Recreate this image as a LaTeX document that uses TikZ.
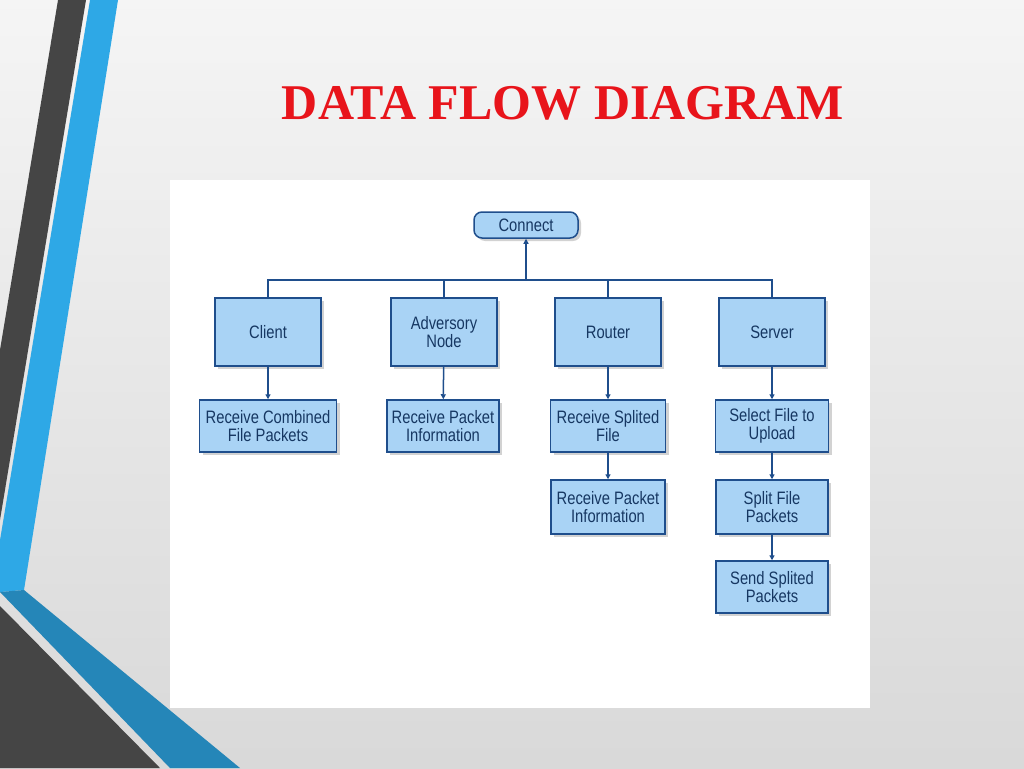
\documentclass[tikz,border=0pt]{standalone}
\usepackage{fontspec}
\setmainfont{Liberation Serif}
\setsansfont{Liberation Sans}[FakeStretch=0.82]
\usetikzlibrary{positioning,shadows,arrows.meta}
\definecolor{boxfill}{HTML}{A9D3F5}
\definecolor{boxline}{HTML}{1F4E8C}
\definecolor{stripeblue}{HTML}{2EA8E6}
\definecolor{stripedark}{HTML}{454545}
\definecolor{titlered}{HTML}{E8141B}
\tikzset{
  dfbox/.style={draw=boxline, line width=1.5pt, fill=boxfill, align=center,
    font=\sffamily\fontsize{18}{18}\selectfont, text=boxline!70!black,
    drop shadow={shadow xshift=3pt, shadow yshift=-3pt, opacity=0.35}},
  link/.style={draw=boxline, line width=1.5pt, -{Triangle[length=5pt,width=5pt]}}
}
\begin{document}
\begin{tikzpicture}[x=1pt,y=-1pt]
\useasboundingbox (0,0) rectangle (1024,768);
% background and stripes
\shade[top color=white!92!gray, bottom color=gray!30] (0,0) rectangle (1024,768);
\fill[stripedark] (58,0) -- (86,0) -- (0,520) -- (0,350) -- cycle;
\fill[stripeblue] (90,0) -- (118,0) -- (24,590) -- (0,592) -- (0,540) -- cycle;
\fill[stripeblue!80!black] (0,592) -- (24,590) -- (240,768) -- (170,768) -- cycle;
\fill[stripedark] (0,606) -- (160,768) -- (0,768) -- cycle;
\node[font=\bfseries\fontsize{50}{54}\selectfont, text=titlered] (title) at (563,103) {DATA FLOW DIAGRAM};
\fill[white] (170,180) rectangle (870,708);
% nodes
\node[dfbox, rounded corners=8pt, minimum width=104pt, minimum height=26pt] (connect) at (526,225) {Connect};
\node[dfbox, minimum width=106pt, minimum height=68pt] (client) at (268,332) {Client};
\node[dfbox, minimum width=106pt, minimum height=68pt] (adv) at (444,332) {Adversory\\Node};
\node[dfbox, minimum width=106pt, minimum height=68pt] (router) at (608,332) {Router};
\node[dfbox, minimum width=106pt, minimum height=68pt] (server) at (772,332) {Server};
\node[dfbox, minimum width=137pt, minimum height=52pt] (rcfp) at (268,426) {Receive Combined\\File Packets};
\node[dfbox, minimum width=112pt, minimum height=52pt] (rpi1) at (443,426) {Receive Packet\\Information};
\node[dfbox, minimum width=115pt, minimum height=52pt] (rsf) at (608,426) {Receive Splited\\File};
\node[dfbox, minimum width=113pt, minimum height=52pt] (sfu) at (772,426) {Select File to\\Upload};
\node[dfbox, minimum width=114pt, minimum height=54pt] (rpi2) at (608,507) {Receive Packet\\Information};
\node[dfbox, minimum width=112pt, minimum height=54pt] (sfp) at (772,507) {Split File\\Packets};
\node[dfbox, minimum width=112pt, minimum height=52pt] (ssp) at (772,587) {Send Splited\\Packets};
\coordinate (bus) at (526,280);
% connectors
\draw[boxline, line width=1.5pt] (client.north) |- (server.north |- bus) -- (server.north);
\draw[boxline, line width=1.5pt] (adv.north) -- (adv.north |- bus);
\draw[boxline, line width=1.5pt] (router.north) -- (router.north |- bus);
\draw[link] (bus) -- (connect.south);
\draw[link] (client) -- (rcfp);
\draw[link] (adv) -- (rpi1);
\draw[link] (router) -- (rsf);
\draw[link] (server) -- (sfu);
\draw[link] (rsf) -- (rpi2);
\draw[link] (sfu) -- (sfp);
\draw[link] (sfp) -- (ssp);
\end{tikzpicture}
\end{document}
